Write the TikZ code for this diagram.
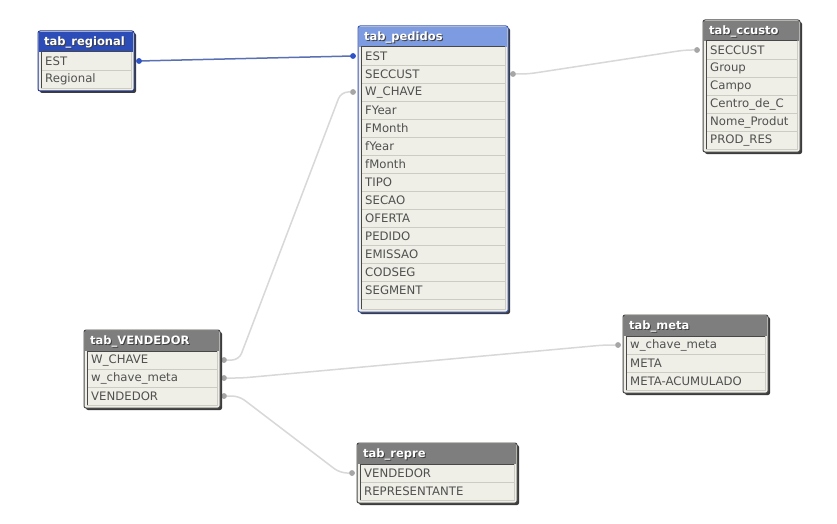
\documentclass[tikz,border=0pt]{standalone}
\usepackage{fontspec}
\setmainfont{DejaVu Sans}
\usetikzlibrary{fit}
\definecolor{rowbg}{HTML}{EFEFE7}
\definecolor{rowline}{HTML}{CCCCC4}
\definecolor{rowtext}{HTML}{505050}
\definecolor{titlegray}{HTML}{7E7E7E}
\definecolor{titledark}{HTML}{2C4DB8}
\definecolor{titlelight}{HTML}{7C9BE0}
\definecolor{framegray}{HTML}{484848}
\definecolor{framedark}{HTML}{1E3592}
\definecolor{framelight}{HTML}{3A58B8}
\definecolor{linegray}{HTML}{D8D8D8}
\definecolor{dotgray}{HTML}{A6A6A6}
\definecolor{dotblue}{HTML}{2E52C8}
\definecolor{lineblue}{HTML}{5A70B4}
\definecolor{shadowc}{HTML}{3C3C3C}
\newcommand\dbtable[9]{%
  \fill[shadowc, rounded corners=2pt] ({#2+2},{#3+2}) rectangle ({#2+#4+2},{#5+2});
  \node[fit={({#2},{#3}) ({#2+#4},{#5})}, inner sep=0pt, draw=#7, fill=rowbg,
        line width=1pt, rounded corners=2pt] (#1) {};
  \fill[#6] ({#2+1},{#3+1}) rectangle ({#2+#4-1},{#3+21});
  \node[ttl, text=black!75] at ({#2+7},{#3+12}) {#8};
  \node[ttl] (#1-t) at ({#2+6},{#3+11}) {#8};
  \foreach \r [count=\i] in {#9} {
    \node[rowtxt] (#1-\i) at ({#2+7},{#3+21+9.5+18*(\i-1)}) {\r};
    \draw[rowl] ({#2+3},{#3+21+18*\i}) -- ({#2+#4-3},{#3+21+18*\i});
  }
  \draw[innerframe] ({#2+3},{#5-3}) -- ({#2+3},{#3+21}) -- ({#2+#4-3},{#3+21});
  \draw[rowl] ({#2+#4-3},{#3+21}) -- ({#2+#4-3},{#5-3}) -- ({#2+3},{#5-3});
}
\begin{document}
\begin{tikzpicture}[x=1pt,y=-1pt,
  rowtxt/.style={anchor=west, inner sep=0pt, font=\fontsize{11.7}{12}\selectfont, text=rowtext},
  ttl/.style={anchor=west, inner sep=0pt, font=\fontsize{11.5}{12}\selectfont\bfseries, text=white},
  rowl/.style={draw=rowline, line width=0.8pt},
  innerframe/.style={draw=framegray, line width=1pt},
  dot/.style={circle, fill=dotgray, inner sep=0pt, minimum size=5.5pt},
  bdot/.style={circle, fill=dotblue, inner sep=0pt, minimum size=5.5pt},
  conn/.style={draw=linegray, line width=1.5pt, rounded corners=7pt},
  bconn/.style={draw=lineblue, line width=1.5pt}]
\useasboundingbox[fill=white] (0,0) rectangle (837,524);

\node[bdot] (regEST) at (139,61) {};
\node[bdot] (pedEST) at (353,56) {};
\node[dot] (pedSEC) at (513,74) {};
\node[dot] (pedWCH) at (353,92) {};
\node[dot] (ccuSEC) at (697,50) {};
\node[dot] (venWCH) at (224,360) {};
\node[dot] (venWCM) at (224,378) {};
\node[dot] (venVEN) at (224,396) {};
\node[dot] (metWCM) at (618,345) {};
\node[dot] (repVEN) at (352,473) {};

\draw[bconn] (regEST.center) -- (pedEST.center);
\draw[conn] (pedSEC.center) -- ([xshift=15pt]pedSEC.center) -- ([xshift=-12pt]ccuSEC.center) -- (ccuSEC.center);
\draw[conn] (venWCH.center) -- ([xshift=15pt]venWCH.center) -- ([xshift=-12pt]pedWCH.center) -- (pedWCH.center);
\draw[conn] (venWCM.center) -- ([xshift=18pt]venWCM.center) -- ([xshift=-14pt]metWCM.center) -- (metWCM.center);
\draw[conn] (venVEN.center) -- ([xshift=15pt]venVEN.center) -- ([xshift=-12pt]repVEN.center) -- (repVEN.center);

\node[bdot] at (regEST) {};
\node[bdot] at (pedEST) {};
\foreach \d in {pedSEC,pedWCH,ccuSEC,venWCH,venWCM,venVEN,metWCM,repVEN} \node[dot] at (\d) {};

\dbtable{reg}{38}{31}{96}{91}{titledark}{framedark}{tab\_regional}{EST,Regional}
\dbtable{ped}{358}{26}{150}{312}{titlelight}{framelight}{tab\_pedidos}{EST,SECCUST,W\_CHAVE,FYear,FMonth,fYear,fMonth,TIPO,SECAO,OFERTA,PEDIDO,EMISSAO,CODSEG,SEGMENT}
\dbtable{ccu}{703}{20}{97}{152}{titlegray}{framegray}{tab\_ccusto}{SECCUST,Group,Campo,Centro\_de\_C,Nome\_Produt,PROD\_RES}
\dbtable{ven}{84}{330}{136}{408}{titlegray}{framegray}{tab\_VENDEDOR}{W\_CHAVE,w\_chave\_meta,VENDEDOR}
\dbtable{met}{623}{315}{145}{393}{titlegray}{framegray}{tab\_meta}{w\_chave\_meta,META,META-ACUMULADO}
\dbtable{rep}{357}{443}{160}{503}{titlegray}{framegray}{tab\_repre}{VENDEDOR,REPRESENTANTE}
\end{tikzpicture}
\end{document}
